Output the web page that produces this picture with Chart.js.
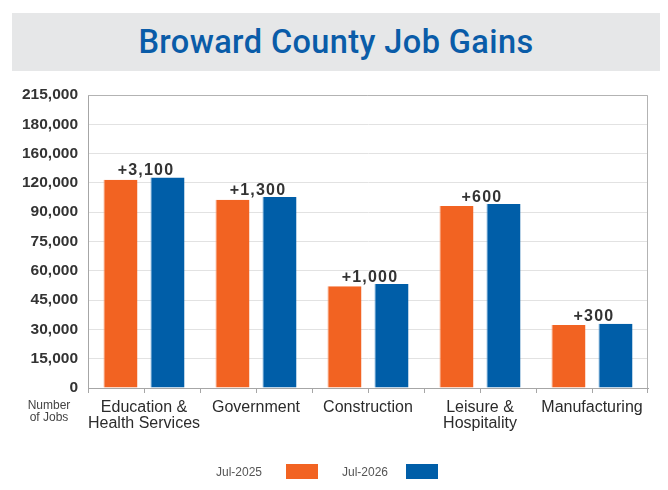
<!DOCTYPE html>
<html>
<head>
<meta charset="utf-8">
<script src="https://cdn.jsdelivr.net/npm/chart.js@4/dist/chart.umd.min.js"></script>
<style>
  html, body { margin: 0; padding: 0; background: #ffffff; }
  #wrap { position: relative; width: 668px; height: 490px; overflow: hidden; }
  #chart { position: absolute; left: 0; top: 0; }
  #titlebox { position: absolute; left: 12px; top: 13px; width: 648px; height: 58px;
    background: #e6e7e8; display: flex; align-items: center; justify-content: center; }
  #titlebox span { font-family: Roboto, "Liberation Sans", sans-serif; font-weight: 500;
    font-size: 32.5px; color: #0a5ca8; letter-spacing: 0.4px; }
  .lg-text { position: absolute; font-family: "Liberation Sans", Arial, sans-serif; font-size: 12px;
    color: #555; line-height: 14px; }
  .lg-box { position: absolute; width: 32px; height: 15px; }
</style>
</head>
<body>
<div id="wrap">
  <canvas id="chart" width="668" height="490"></canvas>
  <div id="titlebox"><span id="title"></span></div>
</div>
<script>
const chartTitle = "Broward County Job Gains";
const categories = [["Education &", "Health Services"], "Government", "Construction", ["Leisure &", "Hospitality"], "Manufacturing"];
const seriesNames = ["Jul-2025", "Jul-2026"];
const jul2025 = [124400, 102800, 52100, 96400, 32300];
const jul2026 = [127500, 105500, 53200, 98300, 32900];
const gainLabels = ["+3,100", "+1,300", "+1,000", "+600", "+300"];
const tickValues = [0, 15000, 30000, 45000, 60000, 75000, 90000, 120000, 160000, 180000, 215000];
const yAxisNote = ["Number", "of Jobs"];
const colors = ["#f26322", "#005ea8"];

document.getElementById('title').textContent = chartTitle;

// The axis labels are evenly spaced but not evenly valued: map job counts
// piecewise onto the evenly spaced tick positions.
function toAxis(v) {
  for (let i = 0; i < tickValues.length - 1; i++) {
    if (v <= tickValues[i + 1]) {
      return i + (v - tickValues[i]) / (tickValues[i + 1] - tickValues[i]);
    }
  }
  return tickValues.length - 1;
}

const extras = {
  id: 'extras',
  afterDraw(chart) {
    const ctx = chart.ctx;
    const a = chart.chartArea;
    const x = chart.scales.x;
    ctx.save();
    // plot border top/right
    ctx.strokeStyle = '#b3b3b3';
    ctx.lineWidth = 1;
    ctx.beginPath();
    ctx.moveTo(a.left, a.top + 0.5);
    ctx.lineTo(a.right - 0.5, a.top + 0.5);
    ctx.lineTo(a.right - 0.5, a.bottom);
    ctx.stroke();
    // x tick marks at category centres and boundaries
    const n = chart.data.labels.length;
    const half = (x.getPixelForValue(1) - x.getPixelForValue(0)) / 2;
    ctx.strokeStyle = '#a6a6a6';
    ctx.beginPath();
    for (let i = 0; i < n; i++) {
      const c = x.getPixelForValue(i);
      [c - half, c].forEach(px => {
        const p = Math.round(px) + 0.5;
        ctx.moveTo(p, a.bottom);
        ctx.lineTo(p, a.bottom + 5);
      });
    }
    const pe = Math.round(x.getPixelForValue(n - 1) + half) - 0.5;
    ctx.moveTo(pe, a.bottom);
    ctx.lineTo(pe, a.bottom + 5);
    ctx.stroke();
    // gain labels
    ctx.fillStyle = '#333333';
    ctx.font = 'bold 16px "Liberation Sans", Arial, sans-serif';
    if ('letterSpacing' in ctx) ctx.letterSpacing = '1.2px';
    ctx.textAlign = 'center';
    ctx.textBaseline = 'alphabetic';
    const m0 = chart.getDatasetMeta(0), m1 = chart.getDatasetMeta(1);
    for (let i = 0; i < n; i++) {
      const top = Math.min(m0.data[i].y, m1.data[i].y);
      ctx.fillText(gainLabels[i], x.getPixelForValue(i) + 2, top - 2.5);
    }
    if ('letterSpacing' in ctx) ctx.letterSpacing = '0px';
    // y axis note
    ctx.fillStyle = '#444444';
    ctx.font = '12px "Liberation Sans", Arial, sans-serif';
    ctx.textBaseline = 'middle';
    ctx.fillText(yAxisNote[0], 49, 406);
    ctx.fillText(yAxisNote[1], 49, 417.5);
    ctx.restore();
  }
};

const chart = new Chart(document.getElementById('chart'), {
  type: 'bar',
  data: {
    labels: categories,
    datasets: [
      { label: seriesNames[0], data: jul2025.map(toAxis), backgroundColor: colors[0],
        borderColor: '#f7a47f', borderWidth: {left: 1}, borderSkipped: false },
      { label: seriesNames[1], data: jul2026.map(toAxis), backgroundColor: colors[1],
        borderColor: '#5a9bd0', borderWidth: {left: 1}, borderSkipped: false }
    ]
  },
  options: {
    responsive: false,
    animation: false,
    devicePixelRatio: 1,
    categoryPercentage: 0.84,
    barPercentage: 0.723,
    layout: { padding: { top: 95, right: 20, left: 0, bottom: 0 }, autoPadding: false },
    plugins: { legend: { display: false }, tooltip: { enabled: false }, title: { display: false } },
    scales: {
      x: {
        grid: { display: false },
        border: { display: true, color: '#a6a6a6' },
        ticks: {
          color: '#2b2b2b',
          padding: 3,
          font: { family: '"Liberation Sans", Arial, sans-serif', size: 16, lineHeight: 1.03 },
          maxRotation: 0, autoSkip: false
        },
        afterFit(s) { s.height = 102; }
      },
      y: {
        min: 0,
        max: tickValues.length - 1,
        grid: { color: '#e2e2e2', drawTicks: false },
        border: { display: true, color: '#a6a6a6' },
        ticks: {
          stepSize: 1,
          padding: 10,
          color: '#333333',
          font: { family: '"Liberation Sans", Arial, sans-serif', size: 15.5, weight: 'bold' },
          callback: v => tickValues[v] !== undefined ? tickValues[v].toLocaleString('en-US') : ''
        },
        afterFit(s) { s.width = 88; }
      }
    }
  },
  plugins: [extras]
});

// legend (text followed by swatch)
const wrap = document.getElementById('wrap');
const legendPos = [[216, 286], [342, 406]];
chart.data.datasets.forEach((ds, i) => {
  const t = document.createElement('div');
  t.className = 'lg-text';
  t.textContent = ds.label;
  t.style.left = legendPos[i][0] + 'px';
  t.style.top = '465px';
  wrap.appendChild(t);
  const b = document.createElement('div');
  b.className = 'lg-box';
  b.style.background = ds.backgroundColor;
  b.style.left = legendPos[i][1] + 'px';
  b.style.top = '464px';
  wrap.appendChild(b);
});
</script>
</body>
</html>
